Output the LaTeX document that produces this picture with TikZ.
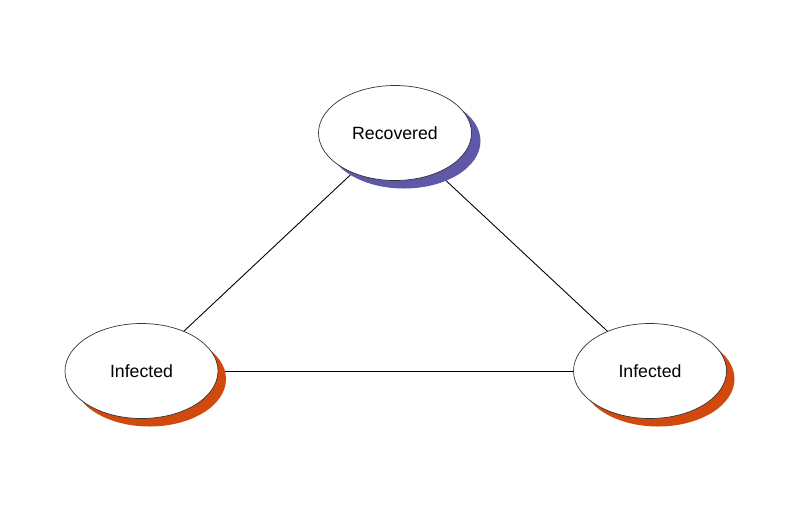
\documentclass[tikz,border=0pt]{standalone}
\usepackage{fontspec}
\setmainfont{Liberation Sans}
\usetikzlibrary{shapes.geometric,backgrounds}
\definecolor{recshadow}{HTML}{5F57A8}
\definecolor{infshadow}{HTML}{CF4A0C}
\tikzset{
  state/.style={ellipse, draw=black!80, line width=0.7pt, fill=white, minimum width=153pt, minimum height=95pt, inner sep=0pt, font=\fontsize{17.7}{20}\selectfont},
  recst/.style={state, preaction={fill=recshadow, transform canvas={shift={(9pt,-8pt)}}}},
  infst/.style={state, preaction={fill=infshadow, transform canvas={shift={(8pt,-8pt)}}}},
  link/.style={draw=black, line width=0.9pt}
}
\begin{document}
\begin{tikzpicture}[x=1pt,y=-1pt]
\useasboundingbox (0,0) rectangle (792,504);
\node[recst] (rec) at (395,133) {Recovered};
\node[infst] (infL) at (141.5,371) {Infected};
\node[infst] (infR) at (650,371) {Infected};
\begin{scope}[on background layer]
\draw[link] (rec.center) -- (infL.center);
\draw[link] (rec.center) -- (infR.center);
\draw[link] (infL.center) -- (infR.center);
\end{scope}
\end{tikzpicture}
\end{document}
